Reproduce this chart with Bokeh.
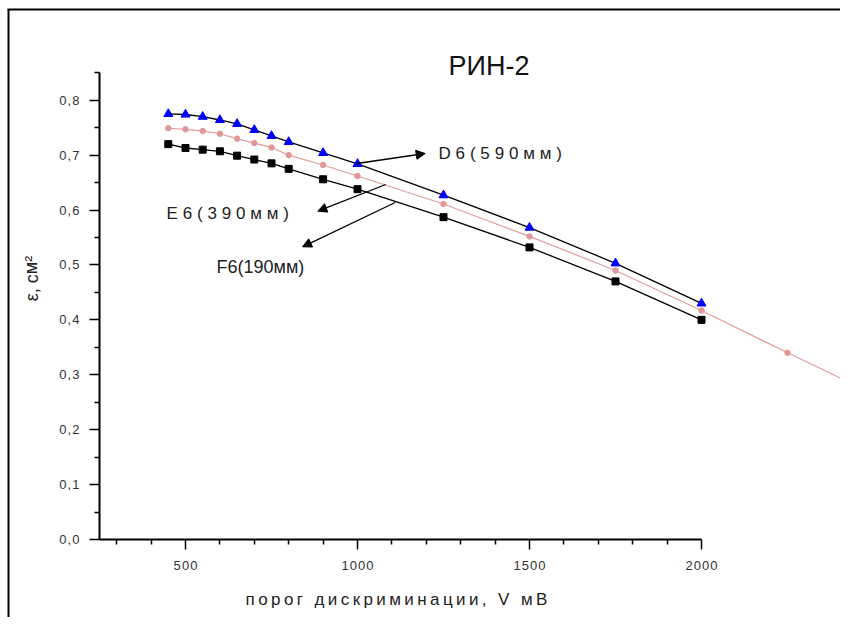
from bokeh.plotting import figure
from bokeh.models import (Range1d, LinearAxis, FixedTicker, CustomJSTickFormatter,
                          Arrow, NormalHead, ColumnDataSource)
from bokeh.core.properties import value
from bokeh.embed import file_html
from bokeh.resources import INLINE

# ---------------- data ----------------
threshold = [450, 500, 550, 600, 650, 700, 750, 800, 900, 1000, 1250, 1500, 1750, 2000]
d6_590 = [0.775, 0.774, 0.770, 0.764, 0.757, 0.746, 0.735, 0.724, 0.704, 0.684,
          0.627, 0.568, 0.503, 0.430]
f6_190 = [0.720, 0.713, 0.710, 0.707, 0.699, 0.692, 0.685, 0.675, 0.656, 0.638,
          0.587, 0.532, 0.470, 0.400]
threshold_e6 = [450, 500, 550, 600, 650, 700, 750, 800, 900, 1000, 1250, 1500, 1750,
                2000, 2250, 2500]
e6_390 = [0.749, 0.747, 0.744, 0.739, 0.730, 0.722, 0.714, 0.700, 0.682, 0.662,
          0.611, 0.552, 0.490, 0.417, 0.340, 0.265]

x_major = [500, 1000, 1500, 2000]
x_minor = [300, 400, 600, 700, 800, 900, 1100, 1200, 1300, 1400, 1600, 1700, 1800, 1900]
y_major = [0.0, 0.1, 0.2, 0.3, 0.4, 0.5, 0.6, 0.7, 0.8]
y_minor = [0.05, 0.15, 0.25, 0.35, 0.45, 0.55, 0.65, 0.75, 0.85]

title_text = "РИН-2"
x_label = "порог дискриминации, V мВ"
y_label = "ε, см²"
series_names = ["D6(590мм)", "E6(390мм)", "F6(190мм)"]

# ---------------- layout helpers (reference pixel -> data) ----------------
W, H = 840, 617
OX, OY = 2, 2              # where the figure lands on the photographed page
PX0, KX = 101.0, 0.344     # page x of V=250, px per mV
PY0, KY = 541.0, 549.1     # page y of eps=0, px per unit


def dx(px):
    return 250 + (px - PX0) / KX


def dy(py):
    return (PY0 - py) / KY


FONT = "Liberation Sans"
TS = "\u2009"
WS = "\u2009\u200A"

p = figure(width=W, height=H, x_range=Range1d(dx(OX), dx(OX + W)),
           y_range=Range1d(dy(OY + H), dy(OY)), output_backend="svg",
           toolbar_location=None, min_border=0, x_axis_type=None, y_axis_type=None)
p.outline_line_color = None
p.background_fill_color = "white"
p.border_fill_color = "white"

xfmt = CustomJSTickFormatter(code="return String(tick).split('').join('\\u200A')")
yfmt = CustomJSTickFormatter(
    code="return tick.toFixed(1).replace('.', ',').split('').join('\\u200A')")

xaxis = LinearAxis(fixed_location=0, bounds=(250, 2000),
                   ticker=FixedTicker(ticks=x_major, minor_ticks=x_minor), formatter=xfmt)
yaxis = LinearAxis(fixed_location=250, bounds=(0, 0.85),
                   ticker=FixedTicker(ticks=y_major, minor_ticks=y_minor), formatter=yfmt)
for ax in (xaxis, yaxis):
    ax.axis_line_width = 2
    ax.axis_line_color = "black"
    ax.major_tick_in = 0
    ax.major_tick_out = 10
    ax.minor_tick_in = 0
    ax.minor_tick_out = 5
    ax.major_tick_line_width = 1.5
    ax.minor_tick_line_width = 1.5
    ax.major_label_text_font = FONT
    ax.major_label_text_font_size = "13px"
    ax.major_label_text_color = "#333333"
xaxis.major_label_standoff = 8
yaxis.major_label_standoff = 10
p.add_layout(xaxis, "below")
p.add_layout(yaxis, "left")

# ---------------- series ----------------
p.line(threshold_e6, e6_390, line_color="#e49c9c", line_width=1.2)
p.scatter(threshold_e6, e6_390, marker="circle", size=5.5, fill_color="#e09898",
          line_color="#e09898")
p.line(threshold, f6_190, line_color="black", line_width=1.3)
p.scatter(threshold, f6_190, marker="square", size=7, fill_color="black", line_color="black")
p.line(threshold, d6_590, line_color="black", line_width=1.3)
p.scatter(threshold, d6_590, marker="triangle", size=9, fill_color="#0000ff",
          line_color="#0000ff")

# ---------------- arrows ----------------
arrows = [((358.3, 165.0), (426.7, 155.0)),
          ((387.3, 186.0), (319.3, 212.7)),
          ((396.7, 204.0), (304.0, 248.3))]
for (sx, sy), (ex, ey) in arrows:
    p.add_layout(Arrow(x_start=dx(sx), y_start=dy(sy), x_end=dx(ex), y_end=dy(ey),
                       line_color="black", line_width=1.3,
                       end=NormalHead(size=9, fill_color="black", line_color="black")))

# ---------------- texts ----------------
lab_src = ColumnDataSource(dict(
    x=[dx(440), dx(168), dx(218)],
    y=[dy(155), dy(215), dy(268)],
    t=[WS.join(series_names[0]), WS.join(series_names[1]), series_names[2]],
    fs=["17px", "17px", "18px"]))
p.text("x", "y", text="t", source=lab_src, text_font=value(FONT), text_font_size="fs",
       text_color="#222222", text_align="left", text_baseline="middle")

p.text([dx(450)], [dy(67)], text=[title_text], text_font=value(FONT),
       text_font_size="27px", text_color="#111111", text_align="left",
       text_baseline="middle")

p.text([dx(398)], [dy(601)], text=[TS.join(x_label)], text_font=value(FONT),
       text_font_size="17px", text_color="#222222", text_align="center",
       text_baseline="middle")

p.text([dx(33)], [dy(280)], text=[y_label], text_font=value(FONT),
       text_font_size="18px", text_color="#222222", text_align="center",
       text_baseline="middle", angle=1.5708)

# outer frame of the original picture (left and top edges)
p.segment(x0=[dx(10), dx(9)], y0=[dy(11), dy(11)], x1=[dx(10), dx(848)],
          y1=[dy(625), dy(11)], line_color="black", line_width=2)

open("out.html", "w").write(file_html(p, INLINE))
